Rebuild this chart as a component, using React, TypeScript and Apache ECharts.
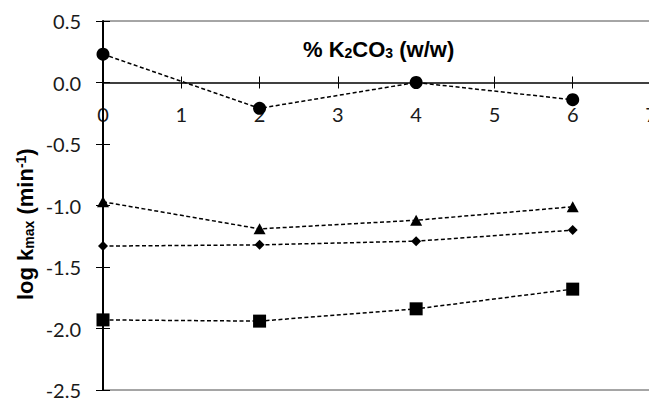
import React, { useEffect, useRef } from "react";
import * as echarts from "echarts";

const xValues = [0, 2, 4, 6];
const circleValues = [0.23, -0.21, 0.0, -0.14];
const triangleValues = [-0.97, -1.19, -1.12, -1.01];
const diamondValues = [-1.33, -1.32, -1.29, -1.2];
const squareValues = [-1.93, -1.94, -1.84, -1.68];

const xMin = 0;
const xMax = 7;
const xStep = 1;
const yMin = -2.5;
const yMax = 0.5;
const yStep = 0.5;

const LABEL_FONT = "Lato, 'Open Sans', sans-serif";
const TITLE_FONT = "'Liberation Sans', Arial, sans-serif";

const GRID_TOP = 21;
const GRID_BOTTOM = 9;
const CHART_H = 399;

export default function App() {
  const ref = useRef<HTMLDivElement>(null);

  useEffect(() => {
    if (!ref.current) return;
    const chart = echarts.init(ref.current, undefined, { renderer: "svg" });

    const gridH = CHART_H - GRID_TOP - GRID_BOTTOM;
    const zeroFromTop = ((yMax - 0) / (yMax - yMin)) * gridH;
    const zeroFromBottom = gridH - zeroFromTop;

    const toPairs = (vals: number[]) => xValues.map((x, i) => [x, vals[i]]);
    const lineStyle = { color: "#000", width: 1.5, type: [4, 2.5] as number[] };
    const mk = (name: string, vals: number[], symbol: string, size: any) => ({
      name,
      type: "line",
      xAxisIndex: 0,
      yAxisIndex: 0,
      data: toPairs(vals),
      symbol,
      symbolSize: size,
      showSymbol: true,
      itemStyle: { color: "#000", borderWidth: 0 },
      lineStyle,
      z: 5,
    });

    const labelStyle = {
      fontFamily: LABEL_FONT,
      fontSize: 20,
      color: "#1a1a1a",
    };

    chart.setOption({
      animation: false,
      backgroundColor: "#fff",
      grid: {
        left: 103,
        top: GRID_TOP,
        right: -2,
        bottom: GRID_BOTTOM,
        show: true,
        borderColor: "#4d4d4d",
        borderWidth: 1,
        backgroundColor: "transparent",
        containLabel: false,
        outerBoundsMode: "none",
      },
      xAxis: [
        {
          type: "value",
          min: xMin,
          max: xMax,
          interval: xStep,
          position: "bottom",
          offset: -zeroFromBottom,
          axisLine: { show: true, onZero: false, lineStyle: { color: "#000", width: 1.5 } },
          axisTick: { show: true, inside: false, length: 6, lineStyle: { color: "#000", width: 1 } },
          axisLabel: { ...labelStyle, margin: 21, formatter: (v: number) => String(v) },
          splitLine: { show: false },
        },
        {
          type: "value",
          min: xMin,
          max: xMax,
          interval: xStep,
          position: "top",
          offset: -zeroFromTop,
          axisLine: { show: false, onZero: false },
          axisTick: { show: true, inside: false, length: 6, lineStyle: { color: "#000", width: 1 } },
          axisLabel: { show: false },
          splitLine: { show: false },
        },
      ],
      yAxis: [
        {
          type: "value",
          min: yMin,
          max: yMax,
          interval: yStep,
          position: "left",
          axisLine: { show: true, onZero: false, lineStyle: { color: "#000", width: 2 } },
          axisTick: { show: true, inside: false, length: 7, lineStyle: { color: "#000", width: 1 } },
          axisLabel: { ...labelStyle, margin: 22, formatter: (v: number) => v.toFixed(1) },
          splitLine: { show: false },
          z: 6,
        },
        {
          type: "value",
          min: yMin,
          max: yMax,
          interval: yStep,
          position: "left",
          axisLine: { show: false, onZero: false },
          axisTick: { show: true, inside: true, length: 7, lineStyle: { color: "#000", width: 1 } },
          axisLabel: { show: false },
          splitLine: { show: false },
        },
      ],
      graphic: [
        {
          type: "text",
          left: 303,
          top: 38,
          style: {
            text: "{m|% K}{s|2}{m|CO}{s|3}{m| (w/w)}",
            rich: {
              m: { fontFamily: TITLE_FONT, fontWeight: "bold", fontSize: 22, lineHeight: 22, fill: "#000" },
              s: { fontFamily: TITLE_FONT, fontWeight: "bold", fontSize: 14, lineHeight: 6, verticalAlign: "bottom", fill: "#000" },
            },
          },
          z: 10,
        },
        {
          type: "text",
          x: 14,
          y: 300,
          rotation: Math.PI / 2,
          style: {
            text: "{m|log k}{s|max}{m| (min}{p|-1}{m|)}",
            rich: {
              m: { fontFamily: TITLE_FONT, fontWeight: "bold", fontSize: 22, lineHeight: 22, fill: "#000" },
              s: { fontFamily: TITLE_FONT, fontWeight: "bold", fontSize: 14, lineHeight: 6, verticalAlign: "bottom", fill: "#000" },
              p: { fontFamily: TITLE_FONT, fontWeight: "bold", fontSize: 14, lineHeight: 10, verticalAlign: "top", fill: "#000" },
            },
          },
          z: 10,
        },
      ],
      series: [
        mk("circle", circleValues, "circle", 13),
        mk("triangle", triangleValues, "triangle", [12, 11]),
        mk("diamond", diamondValues, "diamond", [10, 10]),
        mk("square", squareValues, "rect", 13),
      ],
    });

    return () => chart.dispose();
  }, []);

  return (
    <div
      ref={ref}
      style={{ position: "fixed", left: 0, top: 0, width: 649, height: 399, background: "#fff" }}
    />
  );
}
